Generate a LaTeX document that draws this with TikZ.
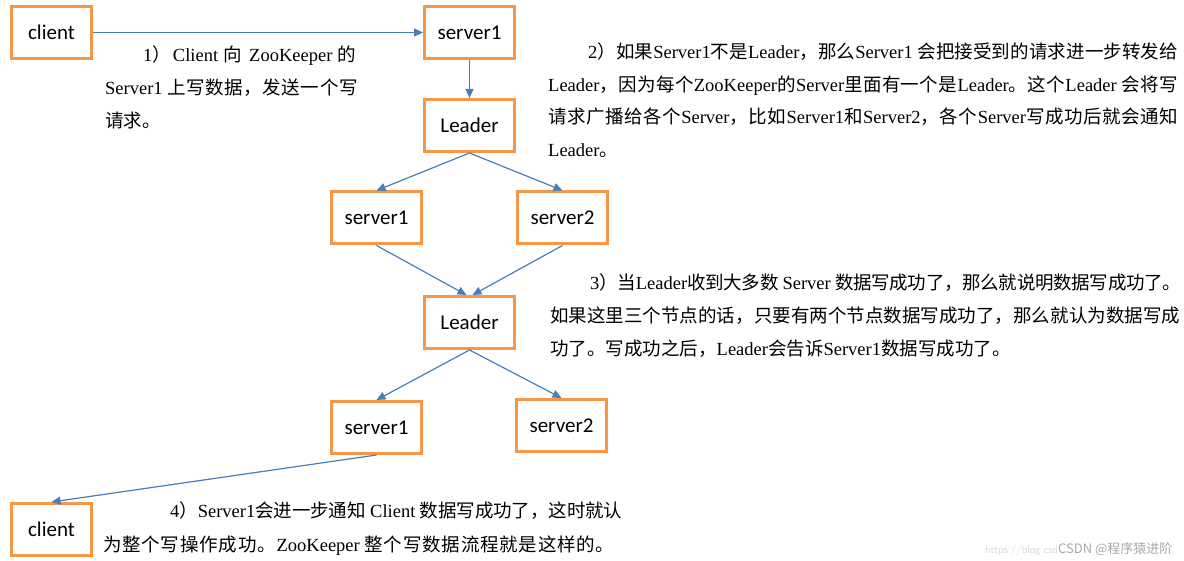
\documentclass[tikz,border=0pt]{standalone}
\usepackage{fontspec}
\setmainfont{Liberation Serif}
\newfontfamily\cjk{Noto Sans CJK SC}
\newfontfamily\boxfont{Carlito}
\usetikzlibrary{arrows.meta}
\ExplSyntaxOn
\NewDocumentCommand\zh{m}{ {\cjk \tl_map_inline:nn {#1}{##1\hskip 0pt plus 1pt minus 0.3pt}} }
\ExplSyntaxOff
\definecolor{boxorange}{HTML}{F79646}
\definecolor{linkblue}{HTML}{4A7EBB}
\definecolor{wmgray}{HTML}{A8A8A8}
\tikzset{
  box/.style={draw=boxorange, line width=3pt, fill=white, minimum width=90pt, minimum height=52pt,
    inner sep=0pt, font=\boxfont\fontsize{21}{25}\selectfont},
  cbox/.style={box, minimum width=80pt},
  link/.style={draw=linkblue, line width=1.2pt, -{Triangle[length=9pt,width=8pt]}},
  txt/.style={anchor=base west, inner sep=0pt, font=\fontsize{18.5}{22}\selectfont},
}
\newcommand\tline[3]{\node[txt] at (#1) {\spaceskip=0.25em plus 0.3pt minus 0.3pt\hbox to #2pt{#3}};}
\newcommand\nline[2]{\node[txt] at (#1) {#2};}
\begin{document}
\begin{tikzpicture}[x=1pt,y=-1pt]
\useasboundingbox (0,0) rectangle (1184,561);
% boxes
\node[cbox] (c1) at (51.5,32.5) {client};
\node[box] (s1) at (469.5,32.5) {server1};
\node[box] (L1) at (469.5,125.5) {Leader};
\node[box] (a1) at (376.5,218) {server1};
\node[box] (a2) at (562.5,218) {server2};
\node[box] (L2) at (469.5,322.5) {Leader};
\node[box] (b1) at (376.5,427.5) {server1};
\node[box] (b2) at (561.5,425.5) {server2};
\node[cbox] (c2) at (51.5,529.5) {client};
% connectors
\draw[link] (c1.east) -- (s1.west);
\draw[link] (s1.south) -- (L1.north);
\draw[link] (L1.south) -- (a1.north);
\draw[link] (L1.south) -- (a2.north);
\draw[link] (a1.south) -- ([xshift=-3pt]L2.north);
\draw[link] (a2.south) -- ([xshift=3pt]L2.north);
\draw[link] (L2.south) -- (b1.north);
\draw[link] (L2.south) -- (b2.north);
\draw[link] (b1.south) -- (c2.north);
% paragraph 1
\tline{143,62}{215}{1\zh{）}Client \zh{向} ZooKeeper \zh{的}}
\tline{105,95}{253}{Server1 \zh{上写数据，发送一个写}}
\nline{105,128}{\zh{请求。}}
% paragraph 2
\tline{588,59}{590}{2\zh{）如果}Server1\zh{不是}Leader\zh{，那么}Server1 \zh{会把接受到的请求进一步转发给}}
\tline{548,92}{630}{Leader\zh{，因为每个}ZooKeeper\zh{的}Server\zh{里面有一个是}Leader\zh{。这个}Leader \zh{会将写}}
\tline{548,124}{630}{\zh{请求广播给各个}Server\zh{，比如}Server1\zh{和}Server2\zh{，各个}Server\zh{写成功后就会通知}}
\nline{548,157}{Leader\zh{。}}
% paragraph 3
\tline{590,290}{590}{3\zh{）当}Leader\zh{收到大多数} Server \zh{数据写成功了，那么就说明数据写成功了。}}
\tline{550,323}{630}{\zh{如果这里三个节点的话，只要有两个节点数据写成功了，那么就认为数据写成}}
\nline{550,356}{\zh{功了。写成功之后，}Leader\zh{会告诉}Server1\zh{数据写成功了。}}
% paragraph 4
\tline{170,517}{452}{4\zh{）}Server1\zh{会进一步通知} Client \zh{数据写成功了，这时就认}}
\tline{103,551}{512}{\zh{为整个写操作成功。}ZooKeeper \zh{整个写数据流程就是这样的。}}
% watermark
\node[anchor=base west, inner sep=0pt, text=wmgray, font=\cjk\fontsize{13}{15}\selectfont] (wm2) at (1058,553) {CSDN @程序猿进阶};
\node[anchor=base east, inner sep=0pt, outer sep=0pt, text=wmgray!45, font=\sffamily\fontsize{11}{13}\selectfont] (wm1) at (wm2.base west) {https://blog.csd};
\end{tikzpicture}
\end{document}
